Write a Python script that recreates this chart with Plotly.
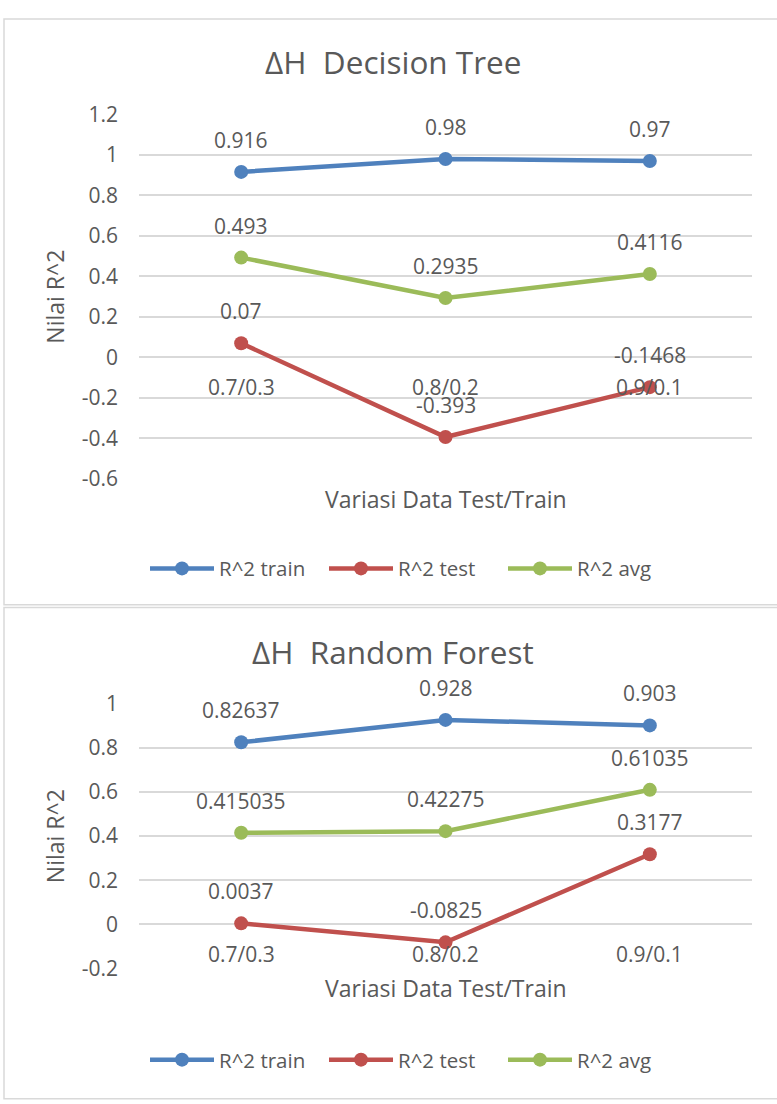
import plotly.graph_objects as go

# Split ratios on the category axis
categories = ["0.7/0.3", "0.8/0.2", "0.9/0.1"]

# Decision Tree scores
dt_train = [0.916, 0.98, 0.97]
dt_test = [0.07, -0.393, -0.1468]
dt_avg = [0.493, 0.2935, 0.4116]

# Random Forest scores
rf_train = [0.82637, 0.928, 0.903]
rf_test = [0.0037, -0.0825, 0.3177]
rf_avg = [0.415035, 0.42275, 0.61035]

# y-axis ticks of each panel
dt_ticks = [-0.6, -0.4, -0.2, 0, 0.2, 0.4, 0.6, 0.8, 1, 1.2]
rf_ticks = [-0.2, 0, 0.2, 0.4, 0.6, 0.8, 1]

series_names = ["R^2 train", "R^2 test", "R^2 avg"]
colors = ["#4F81BD", "#C0504D", "#9BBB59"]

W, H = 777, 1104
FONT = "Open Sans, Noto Sans, sans-serif"
TXT = "#595959"
GRID = "#D9D9D9"


def px(x):
    return x / W


def py(y):
    return 1 - y / H


def label(v):
    return f"{v:g}"


fig = go.Figure()

panels = [
    dict(title="ΔH  Decision Tree", data=[dt_train, dt_test, dt_avg],
         xa="x", ya="y", legend="legend",
         ytop=102, ybot=476, title_y=48,
         xtitle_y=497, legend_y=568, box=(4, 605)),
    dict(title="ΔH  Random Forest", data=[rf_train, rf_test, rf_avg],
         xa="x2", ya="y2", legend="legend2",
         ytop=707, ybot=978, title_y=653,
         xtitle_y=998, legend_y=1072, box=(608, 1112)),
]

annotations = []
shapes = []

for p in panels:
    for name, vals, col in zip(series_names, p["data"], colors):
        fig.add_trace(go.Scatter(
            x=categories, y=vals, name=name, mode="lines+markers",
            line=dict(color=col, width=4.5),
            marker=dict(color=col, size=14),
            xaxis=p["xa"], yaxis=p["ya"], legend=p["legend"],
            hoverinfo="skip",
        ))
        # value labels sit above each point
        for c, v in zip(categories, vals):
            annotations.append(dict(
                x=c, y=v, xref=p["xa"], yref=p["ya"], text=label(v),
                showarrow=False, yshift=32, yanchor="middle",
                font=dict(family=FONT, size=21, color=TXT)))
    # category labels next to the zero line
    for c in categories:
        annotations.append(dict(
            x=c, y=0, xref=p["xa"], yref=p["ya"], text=c,
            showarrow=False, yshift=-30, yanchor="middle",
            font=dict(family=FONT, size=21, color=TXT)))
    # chart title
    annotations.append(dict(
        x=px(393), y=py(p["title_y"]), xref="paper", yref="paper",
        text=p["title"], showarrow=False, xanchor="center", yanchor="middle",
        font=dict(family=FONT, size=31.5, color=TXT)))
    # axis titles
    annotations.append(dict(
        x=px(446), y=py(p["xtitle_y"]), xref="paper", yref="paper",
        text="Variasi Data Test/Train", showarrow=False,
        xanchor="center", yanchor="middle",
        font=dict(family=FONT, size=23, color=TXT)))
    annotations.append(dict(
        x=px(55), y=py((p["ytop"] + p["ybot"]) / 2),
        xref="paper", yref="paper", text="Nilai R^2", textangle=-90,
        showarrow=False, xanchor="center", yanchor="middle",
        font=dict(family=FONT, size=23, color=TXT)))
    # chart frame
    shapes.append(dict(
        type="rect", xref="paper", yref="paper",
        x0=px(4), x1=px(790), y0=py(p["box"][1]), y1=py(p["box"][0]),
        line=dict(color=GRID, width=1.5), fillcolor="rgba(0,0,0,0)",
        layer="below"))

axis_common = dict(showline=False, zeroline=False, ticks="")
tickfont = dict(family=FONT, size=21, color=TXT)
legend_common = dict(orientation="h", xanchor="left", yanchor="middle",
                     itemwidth=64, entrywidth=100,
                     font=dict(family=FONT, size=20.5, color=TXT))

fig.update_layout(
    width=W, height=H, margin=dict(l=0, r=0, t=0, b=0),
    paper_bgcolor="white", plot_bgcolor="white",
    showlegend=True,
    xaxis=dict(domain=[px(139), px(752)], anchor="y", showgrid=False,
               showticklabels=False, range=[-0.5, 2.5], **axis_common),
    yaxis=dict(domain=[py(476), py(102)], anchor="x",
               range=[-0.6, 1.2], tickvals=dt_ticks,
               ticktext=[label(t) for t in dt_ticks],
               gridcolor=GRID, gridwidth=1.5, ticklabelstandoff=20,
               tickfont=tickfont, **axis_common),
    xaxis2=dict(domain=[px(139), px(752)], anchor="y2", showgrid=False,
                showticklabels=False, range=[-0.5, 2.5], **axis_common),
    yaxis2=dict(domain=[py(978), py(707)], anchor="x2",
                range=[-0.2, 1.0], tickvals=rf_ticks,
                ticktext=[label(t) for t in rf_ticks],
                gridcolor=GRID, gridwidth=1.5, ticklabelstandoff=20,
                tickfont=tickfont, **axis_common),
    legend=dict(x=px(145), y=py(568), **legend_common),
    legend2=dict(x=px(145), y=py(1072), **legend_common),
    annotations=annotations,
    shapes=shapes,
)

fig.write_html("out.html")
